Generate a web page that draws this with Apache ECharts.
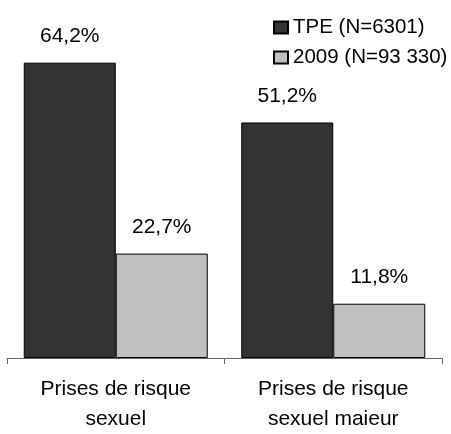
<!DOCTYPE html>
<html><head><meta charset="utf-8">
<script src="https://cdn.jsdelivr.net/npm/echarts@6/dist/echarts.min.js"></script>
<style>html,body{margin:0;padding:0;background:#fff;width:100%;height:100%;overflow:hidden}#c{width:451px;height:434px}</style>
</head><body><div id="c"></div>
<script>
var categories = ['Prises de risque\nsexuel', 'Prises de risque\nsexuel maieur'];
var seriesNames = ['TPE (N=6301)', '2009 (N=93 330)'];
var tpeValues = [64.2, 51.2];
var y2009Values = [22.7, 11.8];
var fmt = function (p) { return p.value.toFixed(1).replace('.', ',') + '%'; };
var font = 'Liberation Sans, Arial, sans-serif';
var chart = echarts.init(document.getElementById('c'));
chart.setOption({
  animation: false,
  textStyle: { fontFamily: font },
  grid: { left: 7, right: 9, top: 36, bottom: 69, containLabel: false },
  legend: {
    orient: 'vertical', left: 268, top: 12, itemWidth: 14, itemHeight: 12, itemGap: 9, icon: 'rect',
    textStyle: { fontSize: 20.5, color: '#000', fontFamily: font },
    data: seriesNames
  },
  xAxis: {
    type: 'category', data: categories,
    axisLine: { lineStyle: { color: '#666', width: 1 } },
    axisTick: { show: true, length: 6, lineStyle: { color: '#666' } },
    axisLabel: { fontSize: 21, color: '#000', lineHeight: 30, margin: 16, fontFamily: font }
  },
  yAxis: { type: 'value', min: 0, max: 70, show: false, splitLine: { show: false } },
  series: [
    { name: seriesNames[0], type: 'bar', data: tpeValues, barWidth: '42.3%', barGap: '0%',
      itemStyle: { color: '#333333', borderColor: '#000', borderWidth: 1, borderRadius: 0 },
      label: { show: true, position: 'top', distance: 16, fontSize: 21, color: '#000', formatter: fmt, fontFamily: font } },
    { name: seriesNames[1], type: 'bar', data: y2009Values, barWidth: '42.3%',
      itemStyle: { color: '#c0c0c0', borderColor: '#000', borderWidth: 1, borderRadius: 0 },
      label: { show: true, position: 'top', distance: 16, fontSize: 21, color: '#000', formatter: fmt, fontFamily: font } }
  ]
});
</script></body></html>
